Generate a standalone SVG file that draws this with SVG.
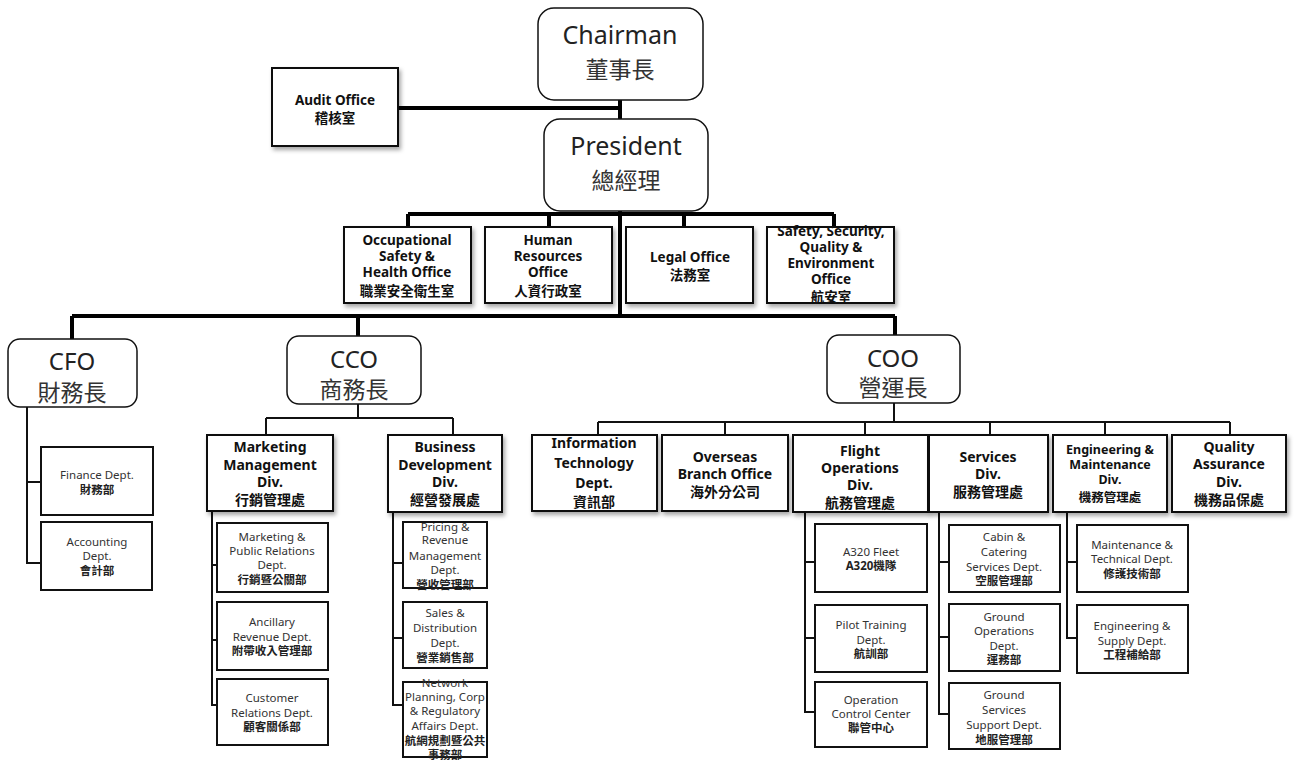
<svg xmlns="http://www.w3.org/2000/svg" width="1294" height="760" viewBox="0 0 1294 760">
<defs>
<filter id="sh" x="-10%" y="-10%" width="130%" height="130%">
<feDropShadow dx="2" dy="3" stdDeviation="2" flood-color="#000" flood-opacity="0.35"/>
</filter>
<style>
text{font-family:"Noto Sans","Noto Sans CJK TC",sans-serif;text-anchor:middle;fill:#111}
.top rect{fill:#fff;stroke:#111;stroke-width:1.5}
.big{font-size:25px;fill:#222}
.bigc{font-size:23px;fill:#333}
.exe{font-size:24px;fill:#222}
.exec{font-size:23px;fill:#333}
.box{fill:#fff;stroke:#111;stroke-width:2}
.shd{filter:url(#sh)}
.off{font-size:13.5px;font-weight:bold}
.div{font-size:14px;font-weight:bold}
.divs{font-size:12.5px;font-weight:bold}
.sub{font-size:11.5px;fill:#333}
.subc{font-size:11.5px;fill:#222;font-weight:bold}
.thick{stroke:#000;stroke-width:4;fill:none}
.thin{stroke:#111;stroke-width:2;fill:none}
</style>
</defs>
<rect width="1294" height="760" fill="#fff"/>
<g id="connectors">
<path class="thick" d="M398,108 H620 M620,100 V119 M620,211 V316 M408,214 H834 M408,214 V227 M549,214 V227 M684,214 V227 M834,214 V227 M72,316 H895 M72,316 V339 M358,316 V336 M895,316 V335"/>
<path class="thin" d="M27,407 V563 H41 M27,482 H41"/>
<path class="thin" d="M358,404 V418 M266,418 H453 M266,418 V435 M453,418 V435"/>
<path class="thin" d="M212,511 V705 H217 M212,565 H217 M212,640 H217"/>
<path class="thin" d="M393,512 V705 H403 M393,563 H403 M393,638 H403"/>
<path class="thin" d="M894,403 V422 M598,422 H1230 M598,422 V435 M725,422 V435 M865,422 V435 M990,422 V435 M1105,422 V435 M1230,422 V435"/>
<path class="thin" d="M805,512 V712 H815 M805,562 H815 M805,638 H815"/>
<path class="thin" d="M939,512 V714 H949 M939,562 H949 M939,637 H949"/>
<path class="thin" d="M1067,512 V638 H1077 M1067,562 H1077"/>
</g>
<g id="chairman" class="top"><rect x="538" y="8" width="165" height="92" rx="16"/><text class="big" x="620" y="44">Chairman</text><text class="bigc" x="620" y="78">董事長</text></g>
<g id="president" class="top"><rect x="544" y="119" width="164" height="92" rx="16"/><text class="big" x="626" y="155">President</text><text class="bigc" x="626" y="189">總經理</text></g>
<g id="audit"><rect class="box shd" x="272" y="68" width="126" height="78"/><text class="off" x="335" y="105">Audit Office</text><text class="off" x="335" y="123">稽核室</text></g>
<g id="osh"><rect class="box shd" x="344" y="227" width="127" height="76"/><text class="off" x="407" y="245">Occupational</text><text class="off" x="407" y="261">Safety &amp;</text><text class="off" x="407" y="277">Health Office</text><text class="off" x="407" y="296">職業安全衛生室</text></g>
<g id="hr"><rect class="box shd" x="485" y="227" width="127" height="76"/><text class="off" x="548" y="245">Human</text><text class="off" x="548" y="261">Resources</text><text class="off" x="548" y="277">Office</text><text class="off" x="548" y="296">人資行政室</text></g>
<g id="legal"><rect class="box shd" x="626" y="227" width="127" height="76"/><text class="off" x="690" y="262">Legal Office</text><text class="off" x="690" y="280">法務室</text></g>
<g id="ssqe"><rect class="box shd" x="767" y="227" width="127" height="76"/><text class="off" x="831" y="236">Safety, Security,</text><text class="off" x="831" y="252">Quality &amp;</text><text class="off" x="831" y="268">Environment</text><text class="off" x="831" y="284">Office</text><text class="off" x="831" y="302">航安室</text></g>
<g id="cfo" class="top"><rect x="8" y="339" width="129" height="68" rx="12"/><text class="exe" x="72" y="370">CFO</text><text class="exec" x="72" y="401">財務長</text></g>
<g id="cco" class="top"><rect x="287" y="336" width="134" height="68" rx="12"/><text class="exe" x="354" y="368">CCO</text><text class="exec" x="354" y="398">商務長</text></g>
<g id="coo" class="top"><rect x="827" y="335" width="133" height="68" rx="12"/><text class="exe" x="893" y="367">COO</text><text class="exec" x="893" y="396">營運長</text></g>
<g id="finance"><rect class="box" x="41" y="447" width="112" height="68"/><text class="sub" x="97" y="479">Finance  Dept.</text><text class="subc" x="97" y="494">財務部</text></g>
<g id="accounting"><rect class="box" x="41" y="522" width="111" height="68"/><text class="sub" x="97" y="546">Accounting</text><text class="sub" x="97" y="560">Dept.</text><text class="subc" x="97" y="575">會計部</text></g>
<g id="marketing"><rect class="box shd" x="207" y="435" width="126" height="76"/><text class="div" x="270" y="452">Marketing</text><text class="div" x="270" y="470">Management</text><text class="div" x="270" y="487">Div.</text><text class="div" x="270" y="505">行銷管理處</text></g>
<g id="bizdev"><rect class="box shd" x="388" y="435" width="114" height="77"/><text class="div" x="445" y="452">Business</text><text class="div" x="445" y="470">Development</text><text class="div" x="445" y="487">Div.</text><text class="div" x="445" y="505">經營發展處</text></g>
<g id="mpr"><rect class="box" x="217" y="523" width="111" height="69"/><text class="sub" x="272" y="541">Marketing &amp;</text><text class="sub" x="272" y="555">Public Relations</text><text class="sub" x="272" y="569">Dept.</text><text class="subc" x="272" y="584">行銷暨公關部</text></g>
<g id="ancillary"><rect class="box" x="217" y="602" width="111" height="68"/><text class="sub" x="272" y="626">Ancillary</text><text class="sub" x="272" y="641">Revenue  Dept.</text><text class="subc" x="272" y="655">附帶收入管理部</text></g>
<g id="customer"><rect class="box" x="217" y="679" width="111" height="66"/><text class="sub" x="272" y="702">Customer</text><text class="sub" x="272" y="717">Relations  Dept.</text><text class="subc" x="272" y="731">顧客關係部</text></g>
<g id="pricing"><rect class="box" x="403" y="522" width="84" height="66"/><text class="sub" x="445" y="531">Pricing &amp;</text><text class="sub" x="445" y="544">Revenue</text><text class="sub" x="445" y="560">Management</text><text class="sub" x="445" y="574">Dept.</text><text class="subc" x="445" y="589">營收管理部</text></g>
<g id="sales"><rect class="box" x="403" y="602" width="84" height="66"/><text class="sub" x="445" y="617">Sales &amp;</text><text class="sub" x="445" y="632">Distribution</text><text class="sub" x="445" y="647">Dept.</text><text class="subc" x="445" y="662">營業銷售部</text></g>
<g id="network"><rect class="box" x="403" y="682" width="84" height="75"/><text class="sub" x="445" y="687">Network</text><text class="sub" x="445" y="701">Planning, Corp</text><text class="sub" x="445" y="715">&amp; Regulatory</text><text class="sub" x="445" y="730">Affairs Dept.</text><text class="subc" x="445" y="745">航網規劃暨公共</text><text class="subc" x="445" y="759">事務部</text></g>
<g id="it"><rect class="box shd" x="532" y="435" width="125" height="76"/><text class="div" x="594" y="448">Information</text><text class="div" x="594" y="468">Technology</text><text class="div" x="594" y="488">Dept.</text><text class="div" x="594" y="507">資訊部</text></g>
<g id="overseas"><rect class="box shd" x="662" y="435" width="126" height="76"/><text class="div" x="725" y="462">Overseas</text><text class="div" x="725" y="479">Branch Office</text><text class="div" x="725" y="497">海外分公司</text></g>
<g id="flight"><rect class="box shd" x="793" y="435" width="135" height="77"/><text class="div" x="860" y="456">Flight</text><text class="div" x="860" y="473">Operations</text><text class="div" x="860" y="490">Div.</text><text class="div" x="860" y="508">航務管理處</text></g>
<g id="services"><rect class="box shd" x="929" y="435" width="119" height="77"/><text class="div" x="988" y="462">Services</text><text class="div" x="988" y="479">Div.</text><text class="div" x="988" y="497">服務管理處</text></g>
<g id="engineering"><rect class="box shd" x="1053" y="435" width="114" height="77"/><text class="divs" x="1110" y="454">Engineering &amp;</text><text class="divs" x="1110" y="469">Maintenance</text><text class="divs" x="1110" y="484">Div.</text><text class="divs" x="1110" y="502">機務管理處</text></g>
<g id="qa"><rect class="box shd" x="1172" y="435" width="114" height="77"/><text class="div" x="1229" y="452">Quality</text><text class="div" x="1229" y="469">Assurance</text><text class="div" x="1229" y="487">Div.</text><text class="div" x="1229" y="505">機務品保處</text></g>
<g id="a320"><rect class="box" x="815" y="524" width="112" height="68"/><text class="sub" x="871" y="556">A320 Fleet</text><text class="subc" x="871" y="570">A320機隊</text></g>
<g id="pilot"><rect class="box" x="815" y="605" width="112" height="67"/><text class="sub" x="871" y="629">Pilot Training</text><text class="sub" x="871" y="644">Dept.</text><text class="subc" x="871" y="658">航訓部</text></g>
<g id="occ"><rect class="box" x="815" y="682" width="112" height="65"/><text class="sub" x="871" y="704">Operation</text><text class="sub" x="871" y="718">Control  Center</text><text class="subc" x="871" y="732">聯管中心</text></g>
<g id="cabin"><rect class="box" x="949" y="525" width="111" height="67"/><text class="sub" x="1004" y="541">Cabin &amp;</text><text class="sub" x="1004" y="556">Catering</text><text class="sub" x="1004" y="571">Services Dept.</text><text class="subc" x="1004" y="585">空服管理部</text></g>
<g id="groundops"><rect class="box" x="949" y="604" width="111" height="67"/><text class="sub" x="1004" y="621">Ground</text><text class="sub" x="1004" y="635">Operations</text><text class="sub" x="1004" y="650">Dept.</text><text class="subc" x="1004" y="664">運務部</text></g>
<g id="groundsvc"><rect class="box" x="949" y="683" width="111" height="66"/><text class="sub" x="1004" y="699">Ground</text><text class="sub" x="1004" y="714">Services</text><text class="sub" x="1004" y="729">Support Dept.</text><text class="subc" x="1004" y="744">地服管理部</text></g>
<g id="maint"><rect class="box" x="1077" y="525" width="111" height="67"/><text class="sub" x="1132" y="549">Maintenance  &amp;</text><text class="sub" x="1132" y="563">Technical  Dept.</text><text class="subc" x="1132" y="578">修護技術部</text></g>
<g id="supply"><rect class="box" x="1077" y="605" width="111" height="68"/><text class="sub" x="1132" y="630">Engineering &amp;</text><text class="sub" x="1132" y="645">Supply Dept.</text><text class="subc" x="1132" y="659">工程補給部</text></g>
</svg>
